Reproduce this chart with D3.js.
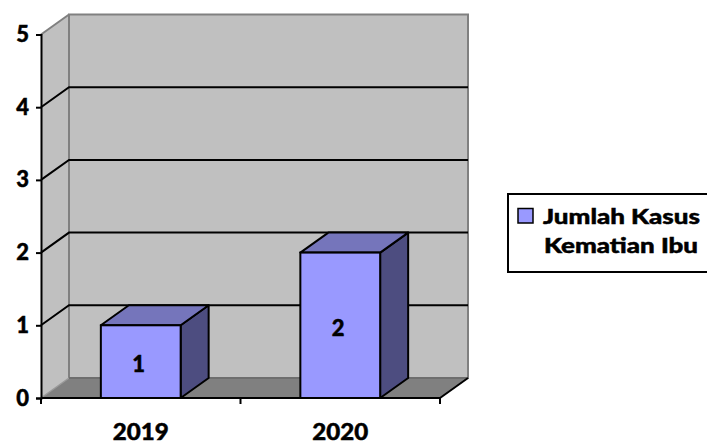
<!DOCTYPE html>
<html>
<head>
<meta charset="utf-8">
<script src="https://cdn.jsdelivr.net/npm/d3@7/dist/d3.min.js"></script>
<style>
  html, body { margin: 0; padding: 0; background: #fff; }
  svg { display: block; }
  text { font-family: Lato, "Open Sans", sans-serif; font-weight: 900; fill: #000;
         stroke: #000; stroke-width: 0.45px; }
</style>
</head>
<body>
<svg id="chart" width="707" height="444"></svg>
<script>
// Data
const years = ["2019", "2020"];
const cases = [1, 2];
const yTicks = [0, 1, 2, 3, 4, 5];
const seriesName = ["Jumlah Kasus", "Kematian Ibu"];

const svg = d3.select("#chart");

// Plot frame (front plane) and 3D depth offset
const plotLeft = 41, plotRight = 440, plotBottom = 398, plotTop = 34.5;
const depthX = 28, depthY = -20;

const y = d3.scaleLinear().domain([0, 5]).range([plotBottom, plotTop]);
const x = d3.scaleBand().domain(years).range([plotLeft, plotRight])
  .paddingInner(0.6).paddingOuter(0.3);

const wallFill = "#c0c0c0", floorFill = "#808080", edge = "#808080";

// Left side wall
svg.append("path")
  .attr("d", d3.line()([[plotLeft, y(5)], [plotLeft + depthX, y(5) + depthY],
                        [plotLeft + depthX, y(0) + depthY], [plotLeft, y(0)]]) + "Z")
  .attr("fill", wallFill);

// Back wall
svg.append("rect")
  .attr("x", plotLeft + depthX).attr("y", y(5) + depthY)
  .attr("width", plotRight - plotLeft)
  .attr("height", y(0) - y(5))
  .attr("fill", wallFill).attr("stroke", edge).attr("stroke-width", 2);

// Top edge of side wall
svg.append("line")
  .attr("x1", plotLeft).attr("y1", y(5))
  .attr("x2", plotLeft + depthX).attr("y2", y(5) + depthY)
  .attr("stroke", edge).attr("stroke-width", 2);

// Floor
svg.append("path")
  .attr("d", d3.line()([[plotLeft, y(0)], [plotLeft + depthX, y(0) + depthY],
                        [plotRight + depthX, y(0) + depthY], [plotRight, y(0)]]) + "Z")
  .attr("fill", floorFill);
svg.append("line")
  .attr("x1", plotLeft).attr("y1", y(0))
  .attr("x2", plotLeft + depthX).attr("y2", y(0) + depthY)
  .attr("stroke", "#999").attr("stroke-width", 1.5);
svg.append("line")
  .attr("x1", plotLeft + depthX).attr("y1", y(0) + depthY)
  .attr("x2", plotRight + depthX).attr("y2", y(0) + depthY)
  .attr("stroke", "#6e6e6e").attr("stroke-width", 2);
svg.append("line")
  .attr("x1", plotRight).attr("y1", y(0))
  .attr("x2", plotRight + depthX).attr("y2", y(0) + depthY)
  .attr("stroke", "#000").attr("stroke-width", 2);

// Gridlines: along the side wall, then across the back wall
svg.append("g").selectAll("path")
  .data(yTicks.filter(v => v > 0 && v < 5))
  .join("path")
  .attr("d", v => d3.line()([[plotLeft, y(v)], [plotLeft + depthX, y(v) + depthY],
                             [plotRight + depthX, y(v) + depthY]]))
  .attr("fill", "none").attr("stroke", "#000").attr("stroke-width", 2);

// Bars as 3D boxes
const bars = svg.append("g").selectAll("g")
  .data(years.map((yr, i) => ({ yr, v: cases[i] })))
  .join("g");

bars.append("path") // side
  .attr("d", d => {
    const x1 = x(d.yr) + x.bandwidth();
    return d3.line()([[x1, y(d.v)], [x1 + depthX, y(d.v) + depthY],
                      [x1 + depthX, y(0) + depthY], [x1, y(0)]]) + "Z";
  })
  .attr("fill", "#4d4d80").attr("stroke", "#000").attr("stroke-width", 2)
  .attr("stroke-linejoin", "round");

bars.append("path") // top
  .attr("d", d => {
    const x0 = x(d.yr), x1 = x0 + x.bandwidth(), yt = y(d.v);
    return d3.line()([[x0, yt], [x0 + depthX, yt + depthY],
                      [x1 + depthX, yt + depthY], [x1, yt]]) + "Z";
  })
  .attr("fill", "#7575bb").attr("stroke", "#000").attr("stroke-width", 2)
  .attr("stroke-linejoin", "round");

bars.append("rect") // front
  .attr("x", d => x(d.yr)).attr("y", d => y(d.v))
  .attr("width", x.bandwidth()).attr("height", d => y(0) - y(d.v))
  .attr("fill", "#9999ff").attr("stroke", "#000").attr("stroke-width", 2);

bars.append("text") // value labels
  .attr("x", d => x(d.yr) + x.bandwidth() / 2 - 2)
  .attr("y", d => (y(d.v) + y(0)) / 2 + 3)
  .attr("dy", "0.35em")
  .attr("text-anchor", "middle")
  .style("font-size", "22px")
  .text(d => d.v);

// Y axis
const yAxis = svg.append("g")
  .attr("transform", `translate(${plotLeft},0)`)
  .call(d3.axisLeft(y).tickValues(yTicks).tickSize(5).tickPadding(7).tickFormat(d3.format("d")));
yAxis.select(".domain").attr("stroke", "#000").attr("stroke-width", 2);
yAxis.selectAll(".tick line").attr("stroke", "#000").attr("stroke-width", 2);
yAxis.selectAll(".tick text").style("font-size", "22px")
  .style("font-family", "Lato, sans-serif").style("font-weight", "900")
  .attr("fill", "#000");

// X axis: baseline with ticks on category boundaries, labels centred on bands
const step = x.step();
const boundaries = d3.range(years.length + 1).map(i => plotLeft + i * step);
svg.append("line")
  .attr("x1", plotLeft).attr("y1", y(0)).attr("x2", plotRight).attr("y2", y(0))
  .attr("stroke", "#000").attr("stroke-width", 2);
svg.append("g").selectAll("line")
  .data(boundaries)
  .join("line")
  .attr("x1", d => d).attr("x2", d => d)
  .attr("y1", y(0)).attr("y2", y(0) + 6)
  .attr("stroke", "#000").attr("stroke-width", 2);
svg.append("g").selectAll("text")
  .data(years)
  .join("text")
  .attr("x", d => x(d) + x.bandwidth() / 2)
  .attr("y", 440)
  .attr("text-anchor", "middle")
  .attr("textLength", 56)
  .attr("lengthAdjust", "spacingAndGlyphs")
  .style("font-size", "23px")
  .text(d => d);

// Legend
const lg = svg.append("g");
lg.append("rect")
  .attr("x", 508).attr("y", 194).attr("width", 220).attr("height", 78)
  .attr("fill", "#fff").attr("stroke", "#000").attr("stroke-width", 2);
lg.append("rect")
  .attr("x", 518).attr("y", 208.5).attr("width", 15).attr("height", 14.5)
  .attr("fill", "#9999ff").attr("stroke", "#000").attr("stroke-width", 1.5);
lg.selectAll("text.lbl")
  .data(seriesName)
  .join("text")
  .attr("class", "lbl")
  .attr("x", (d, i) => i === 0 ? 543 : 544)
  .attr("y", (d, i) => 224 + i * 29)
  .attr("textLength", (d, i) => i === 0 ? 157 : 154)
  .attr("lengthAdjust", "spacingAndGlyphs")
  .style("font-size", "20px")
  .text(d => d);
</script>
</body>
</html>
